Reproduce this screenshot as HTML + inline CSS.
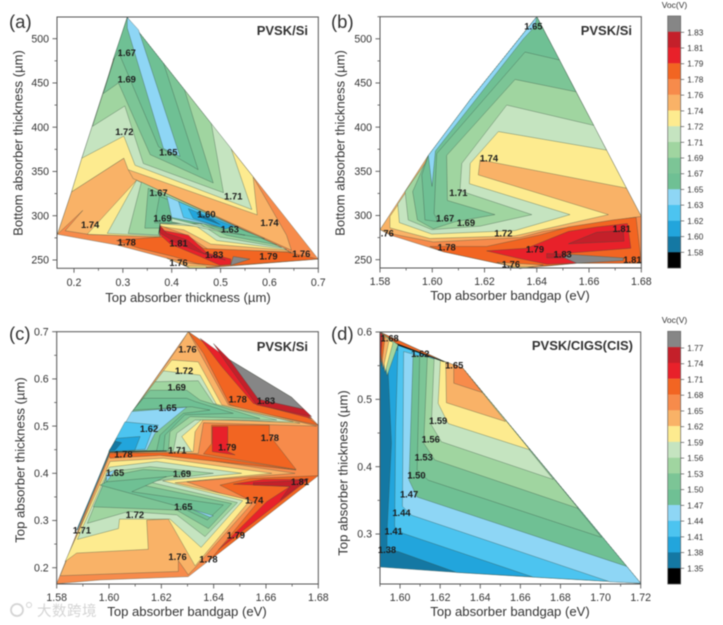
<!DOCTYPE html>
<html>
<head>
<meta charset="utf-8">
<title>Voc contour maps</title>
<style>
html,body{margin:0;padding:0;background:#fff;width:723px;height:625px;overflow:hidden}
svg{display:block;filter:blur(0.45px)}
text{font-family:"Liberation Sans","Noto Sans CJK SC",sans-serif}
</style>
</head>
<body>
<svg id="figure" xmlns="http://www.w3.org/2000/svg" width="723" height="625" viewBox="0 0 723 625"></svg>
<script>
// Band ordinal (0 = lowest Voc band, 15 = highest) -> colour bar palette
const palette = ['#000000','#1478a3','#22a5dc','#4cc4f0','#8ed6f5','#6fc094','#7cc596','#a0d5a0','#c5e4c0','#fdeb8f','#f9b267','#f78b4b','#f26522','#e8212a','#c4202a','#868686'];

// ---------- Panel (a): top thickness (um) vs bottom thickness (um)
const aXTicks = ['0.2','0.3','0.4','0.5','0.6','0.7'];
const aYTicks = ['250','300','350','400','450','500'];
const aBands = [
[11,[[.309,524],[.7,251],[.519,243],[.4715,241],[.437,241],[.39,252],[.287,267],[.166,279],[.195,327],[.216,365],[.238,401],[.26,438],[.28,476]]],
[10,[[.195,327],[.166,279],[.218,306],[.182,283],[.229,279],[.376,276],[.325,344],[.302,365]]],
[10,[[.311,352],[.5665,344],[.635,278],[.645,261],[.321,342]]],
[9,[[.309,524],[.5665,344],[.575,301],[.311,352],[.302,365],[.195,327],[.216,365]]],
[8,[[.309,524],[.5215,376],[.564,307],[.325,357],[.302,390],[.216,365]]],
[7,[[.309,524],[.481,404],[.506,326],[.342,359],[.304,424],[.238,401]]],
[6,[[.309,524],[.4264,442],[.485,337],[.356,369],[.291,450],[.26,438]]],
[5,[[.309,524],[.3835,472],[.454,352],[.373,378],[.291,485],[.28,476]]],
[4,[[.309,524],[.332,510],[.417,367],[.383,376],[.309,512]]],
[9,[[.328,340],[.227,279],[.376,276],[.44,272],[.492,265],[.64,260]]],
[8,[[.328,340],[.268,280],[.375,277],[.376,291],[.451,288],[.492,272],[.635,262]]],
[7,[[.338,338],[.311,280],[.375,278],[.376,291],[.458,291],[.499,276],[.625,264]]],
[6,[[.352,331],[.345,286],[.375,286],[.376,292],[.465,291],[.512,278],[.615,267]]],
[5,[[.375,322],[.365,292],[.376,292],[.47,291],[.52,281],[.59,274]]],
[8,[[.4,297],[.5,283],[.55,278],[.51,281],[.4,293]]],
[4,[[.39,322],[.4,298],[.51,286],[.53,288]]],
[3,[[.414,316],[.424,298],[.51,286],[.53,288]]],
[2,[[.434,308],[.444,297],[.51,285],[.525,288]]],
[1,[[.451,303],[.46,298],[.499,290],[.485,295]]],
[10,[[.376,288],[.425,284],[.48,268],[.635,261],[.645,258],[.45,250],[.376,275]]],
[11,[[.376,289],[.431,278],[.475,262],[.645,259],[.55,248],[.376,275]]],
[12,[[.287,272],[.375,276],[.431,276],[.465,263],[.635,259],[.7,251],[.526,244],[.492,243],[.451,246],[.403,254],[.335,263]]],
[13,[[.376,284],[.434,278],[.472,258],[.521,251],[.521,245],[.499,244],[.458,254],[.397,268],[.375,279]]],
[14,[[.376,289],[.39,280],[.43,273],[.465,258],[.51,250],[.47,256],[.41,269],[.375,281]]],
[15,[[.521,245],[.526,254],[.56,251],[.521,244]]],
[0,[[.373,279],[.376,291],[.376,284]]],
[10,[[.39,252],[.44,246],[.499,243],[.437,241]]],
[9,[[.437,241],[.43,243],[.47,243],[.4715,241]]]
];
const aLabels = [[.308,484,'1.67'],[.308,454,'1.69'],[.303,395,'1.72'],[.393,372,'1.65'],[.526,322,'1.71'],[.373,326,'1.67'],[.471,302,'1.60'],[.381,297,'1.69'],[.519,285,'1.63'],[.6,292,'1.74'],[.233,290,'1.74'],[.308,270,'1.78'],[.414,269,'1.81'],[.487,256,'1.83'],[.598,254,'1.79'],[.665,257,'1.76'],[.414,247,'1.76']];

// ---------- Panel (b): top bandgap (eV) vs bottom thickness (um)
const bXTicks = ['1.58','1.60','1.62','1.64','1.66','1.68'];
const bYTicks = ['250','300','350','400','450','500'];
const bBands = [
[11,[[1.64,525],[1.68,299],[1.68,246],[1.6553,246],[1.6451,243],[1.6336,240],[1.6247,246],[1.6042,259],[1.5838,278],[1.58,284],[1.5896,327],[1.5985,368],[1.6145,431]]],
[10,[[1.6743,331],[1.68,299],[1.668,294],[1.6425,282],[1.6336,275],[1.6004,270],[1.5832,280],[1.58,284],[1.5985,368],[1.6253,395]]],
[9,[[1.64,525],[1.6667,374],[1.6743,331],[1.6183,363],[1.6176,346],[1.6674,301],[1.6317,277],[1.5991,274],[1.5838,286],[1.5838,299],[1.6145,431]]],
[8,[[1.64,525],[1.6618,402],[1.6667,374],[1.6253,395],[1.6145,359],[1.6142,336],[1.6527,301],[1.6317,283],[1.5998,279],[1.5874,292],[1.5868,313],[1.6145,431]]],
[7,[[1.64,525],[1.655,440],[1.6618,402],[1.6285,425],[1.6113,359],[1.6106,328],[1.6381,301],[1.6183,288],[1.5998,284],[1.5908,295],[1.5896,327],[1.6145,431]]],
[6,[[1.64,525],[1.6487,476],[1.655,440],[1.6317,454],[1.6055,368],[1.6058,317],[1.624,301],[1.6087,293],[1.6004,285],[1.5943,295],[1.5925,327],[1.5985,368],[1.6145,431]]],
[5,[[1.64,525],[1.6487,476],[1.6355,485],[1.6017,370],[1.6007,302],[1.6023,293],[1.5972,295],[1.596,346],[1.5985,368],[1.6145,431]]],
[4,[[1.64,525],[1.6393,514],[1.6349,500],[1.6012,373],[1.5999,333],[1.5985,368],[1.6145,431]]],
[12,[[1.5991,265],[1.6208,265],[1.6412,278],[1.6521,287],[1.6693,295],[1.678,298],[1.68,246],[1.6553,246],[1.6425,243],[1.6247,246],[1.6042,259]]],
[13,[[1.6208,260],[1.6361,263],[1.6521,282],[1.6629,287],[1.6747,291],[1.676,263],[1.6502,257],[1.6553,246],[1.6438,245],[1.6323,252]]],
[14,[[1.6521,268],[1.6629,281],[1.6731,283],[1.6734,271]]],
[14,[[1.6438,257],[1.6527,256],[1.6502,252],[1.6438,252]]],
[15,[[1.6499,253],[1.6527,256],[1.6731,252],[1.6731,249],[1.6553,246]]],
[10,[[1.6247,247],[1.6425,244],[1.6336,240]]],
[9,[[1.6288,242],[1.6387,242],[1.6336,240]]]
];
const bLabels = [[1.6387,514,'1.65'],[1.6217,365,'1.74'],[1.61,326,'1.71'],[1.6049,297,'1.67'],[1.6129,292,'1.69'],[1.6272,280,'1.72'],[1.6725,285,'1.81'],[1.6393,262,'1.79'],[1.6055,264,'1.78'],[1.6499,256,'1.83'],[1.6766,250,'1.81'],[1.6301,245,'1.76'],[1.5828,280,'.76']];

// ---------- Panel (c): top bandgap (eV) vs top thickness (um)
const cXTicks = ['1.58','1.60','1.62','1.64','1.66','1.68'];
const cYTicks = ['0.2','0.3','0.4','0.5','0.6','0.7'];
const cBands = [
[11,[[1.6303,.7],[1.6462,.64],[1.6698,.561],[1.68,.502],[1.68,.396],[1.6303,.181],[1.5966,.174],[1.58,.166],[1.6,.446],[1.6093,.534]]],
[12,[[1.6303,.7],[1.6462,.64],[1.68,.502],[1.6526,.534],[1.6462,.545],[1.6361,.654]]],
[13,[[1.6348,.686],[1.6462,.64],[1.6775,.516],[1.6552,.548],[1.6431,.626]]],
[14,[[1.6399,.675],[1.6462,.64],[1.6698,.561],[1.6775,.52],[1.6564,.545],[1.645,.633]]],
[15,[[1.6462,.64],[1.6698,.561],[1.6743,.536],[1.6571,.557]]],
[10,[[1.6265,.667],[1.6303,.7],[1.6373,.629],[1.6456,.545],[1.6794,.5],[1.6361,.507],[1.6341,.442],[1.622,.442],[1.6,.446],[1.6093,.534]]],
[9,[[1.6208,.617],[1.624,.64],[1.6341,.636],[1.6431,.545],[1.673,.506],[1.6363,.516],[1.6329,.488],[1.6322,.446],[1.6,.446],[1.6093,.534]]],
[8,[[1.6208,.617],[1.6348,.608],[1.6412,.545],[1.6705,.509],[1.6354,.514],[1.6278,.478],[1.6316,.446],[1.6,.446],[1.6093,.534]]],
[7,[[1.6176,.594],[1.6341,.596],[1.6399,.548],[1.6641,.513],[1.6329,.513],[1.6259,.485],[1.6246,.448],[1.6,.446],[1.6093,.534]]],
[6,[[1.6157,.576],[1.6297,.576],[1.6348,.555],[1.6577,.516],[1.631,.52],[1.6233,.488],[1.6227,.448],[1.6,.446],[1.6093,.534]]],
[5,[[1.6131,.559],[1.6297,.559],[1.6329,.552],[1.6475,.527],[1.629,.524],[1.6214,.481],[1.6208,.448],[1.6,.446],[1.6093,.534]]],
[6,[[1.6093,.534],[1.6316,.541],[1.6386,.534],[1.6284,.527],[1.6195,.481],[1.6182,.448],[1.6,.446]]],
[4,[[1.6087,.531],[1.6297,.54],[1.6176,.485],[1.6144,.449],[1.6,.446]]],
[3,[[1.6061,.509],[1.6189,.502],[1.6163,.488],[1.6138,.451],[1.6,.446]]],
[2,[[1.6029,.474],[1.6119,.478],[1.6099,.449],[1.6,.446]]],
[1,[[1.6,.448],[1.6023,.468],[1.6048,.465],[1.6023,.449]]],
[12,[[1.6361,.441],[1.6392,.463],[1.6392,.502],[1.6613,.502],[1.6613,.481],[1.6715,.408]]],
[13,[[1.6395,.499],[1.6454,.499],[1.6454,.446],[1.6482,.439],[1.6395,.446]]],
[10,[[1.6,.435],[1.622,.441],[1.6711,.4],[1.6297,.382],[1.6545,.335],[1.6335,.204],[1.6303,.185],[1.6265,.215],[1.6265,.192],[1.5813,.183]]],
[12,[[1.5997,.442],[1.622,.444],[1.6322,.441],[1.6715,.407],[1.6195,.438],[1.6004,.432]]],
[0,[[1.6,.445],[1.622,.448],[1.622,.447],[1.6,.444]]],
[9,[[1.5832,.213],[1.5876,.231],[1.615,.239],[1.6144,.301],[1.6227,.303],[1.6329,.204],[1.6539,.343],[1.6252,.38],[1.6622,.4],[1.6348,.421],[1.6208,.432],[1.6004,.425]]],
[8,[[1.5879,.26],[1.6036,.283],[1.604,.303],[1.6233,.303],[1.6352,.243],[1.6511,.342],[1.6205,.384],[1.6507,.4],[1.6182,.425],[1.6001,.413]]],
[7,[[1.5917,.294],[1.6074,.319],[1.6259,.312],[1.6367,.266],[1.6491,.338],[1.615,.382],[1.6399,.4],[1.6157,.414],[1.5997,.403]]],
[6,[[1.594,.329],[1.6259,.322],[1.638,.283],[1.6469,.336],[1.6093,.379],[1.631,.402],[1.6131,.408],[1.5991,.393]]],
[5,[[1.5966,.375],[1.6271,.329],[1.6376,.301],[1.6437,.333],[1.6087,.361],[1.622,.393],[1.5991,.382]]],
[4,[[1.6316,.324],[1.6399,.31],[1.6386,.307]]],
[4,[[1.5989,.4],[1.6023,.407],[1.5991,.382]]],
[12,[[1.6424,.375],[1.6539,.389],[1.68,.395],[1.6386,.216],[1.6564,.336]]],
[13,[[1.6475,.377],[1.659,.387],[1.6762,.387],[1.6418,.238],[1.6603,.34],[1.6692,.372]]],
[14,[[1.6552,.38],[1.6705,.384],[1.6762,.389],[1.6654,.343],[1.6692,.372],[1.6552,.375]]],
[1,[[1.6,.444],[1.5876,.28],[1.5879,.28],[1.6003,.443]]]
];
const cLabels = [[1.63,.663,'1.76'],[1.6287,.617,'1.72'],[1.6259,.582,'1.69'],[1.6224,.539,'1.65'],[1.6153,.494,'1.62'],[1.6492,.557,'1.78'],[1.66,.554,'1.83'],[1.6452,.455,'1.79'],[1.6615,.475,'1.78'],[1.6055,.44,'1.78'],[1.6261,.449,'1.71'],[1.6023,.401,'1.65'],[1.6279,.399,'1.69'],[1.673,.382,'1.81'],[1.6555,.343,'1.74'],[1.6284,.329,'1.65'],[1.6099,.312,'1.72'],[1.5896,.279,'1.71'],[1.6485,.269,'1.79'],[1.6262,.223,'1.76'],[1.638,.218,'1.78']];

// ---------- Panel (d): top bandgap (eV) vs top thickness (um), CIGS
const dXTicks = ['1.60','1.62','1.64','1.66','1.68','1.70','1.72'];
const dYTicks = ['0.3','0.4','0.5','0.6'];
const dBands = [
[1,[[1.59,.6],[1.6223,.556],[1.6314,.546],[1.72,.227],[1.6664,.236],[1.6281,.243],[1.59,.251]]],
[2,[[1.6281,.243],[1.72,.227],[1.6314,.546],[1.5935,.577],[1.5957,.435],[1.5935,.303],[1.5935,.275],[1.599,.274]]],
[3,[[1.6664,.236],[1.72,.227],[1.6314,.546],[1.599,.581],[1.5978,.459],[1.5973,.311],[1.6015,.301]]],
[4,[[1.7047,.229],[1.72,.227],[1.6314,.546],[1.6018,.571],[1.6012,.341],[1.6057,.328]]],
[5,[[1.713,.252],[1.6314,.546],[1.6065,.566],[1.6045,.38],[1.6085,.355]]],
[6,[[1.7005,.295],[1.6314,.546],[1.6098,.566],[1.6085,.395],[1.614,.38]]],
[7,[[1.6889,.338],[1.6314,.546],[1.6136,.563],[1.6118,.435],[1.6173,.41]]],
[8,[[1.6764,.381],[1.6314,.546],[1.617,.561],[1.6156,.462],[1.6206,.437]]],
[9,[[1.6647,.425],[1.6314,.546],[1.6201,.558],[1.619,.494],[1.624,.464]]],
[10,[[1.6526,.467],[1.6314,.546],[1.6228,.556],[1.6231,.495]]],
[11,[[1.6411,.51],[1.6314,.546],[1.6268,.553],[1.6268,.524]]],
[12,[[1.59,.6],[1.6223,.556],[1.5982,.583]]],
[0,[[1.5982,.583],[1.6223,.556],[1.6215,.556],[1.5982,.581]]],
[7,[[1.59,.6],[1.599,.581],[1.5935,.535]]],
[9,[[1.59,.6],[1.5965,.584],[1.5925,.54]]],
[10,[[1.59,.6],[1.5945,.587],[1.5915,.545]]],
[12,[[1.59,.6],[1.5925,.592],[1.5908,.55]]],
[14,[[1.59,.6],[1.5912,.596],[1.5903,.555]]]
];
const dLabels = [[1.5948,.591,'1.68'],[1.6101,.568,'1.62'],[1.627,.551,'1.65'],[1.619,.468,'1.59'],[1.6153,.441,'1.56'],[1.6118,.414,'1.53'],[1.6082,.387,'1.50'],[1.6045,.359,'1.47'],[1.6007,.332,'1.44'],[1.5968,.304,'1.41'],[1.5935,.277,'1.38']];

// ---------- Colour bar tick labels (top to bottom)
const upperBarTicks = ['1.83','1.81','1.79','1.78','1.76','1.74','1.72','1.71','1.69','1.67','1.65','1.63','1.62','1.60','1.58'];
const lowerBarTicks = ['1.77','1.74','1.71','1.68','1.65','1.62','1.59','1.56','1.53','1.50','1.47','1.44','1.41','1.38','1.35'];

// ---------- Layout (not data)
const panels = [
 {key:'a',tag:'(a)',tagX:9,tagY:28,left:57,right:318.3,top:17,bottom:268.3,xDom:[.1652,.7],yDom:[240.6,524.5],xTicks:aXTicks,yTicks:aYTicks,bands:aBands,labels:aLabels,xTitle:'Top absorber thickness (\u00b5m)',yTitle:'Bottom absorber thickness (\u00b5m)',xTitleX:188,xTitleY:302,xTickY:286,yTitleX:18,yTitleY:143,note:'PVSK/Si',noteX:308,noteY:35},
 {key:'b',tag:'(b)',tagX:331,tagY:28,left:380,right:641.3,top:16.7,bottom:268,xDom:[1.58,1.68],yDom:[240.6,525],xTicks:bXTicks,yTicks:bYTicks,bands:bBands,labels:bLabels,xTitle:'Top absorber bandgap (eV)',yTitle:'Bottom absorber thickness (\u00b5m)',xTitleX:510,xTitleY:300,xTickY:285,yTitleX:340,yTitleY:143,note:'PVSK/Si',noteX:632,noteY:35},
 {key:'c',tag:'(c)',tagX:9,tagY:340,left:56.7,right:318.3,top:331.7,bottom:584,xDom:[1.58,1.68],yDom:[.1655,.7],xTicks:cXTicks,yTicks:cYTicks,bands:cBands,labels:cLabels,xTitle:'Top absorber bandgap (eV)',yTitle:'Top absorber thickness (\u00b5m)',xTitleX:187,xTitleY:616,xTickY:601,yTitleX:20,yTitleY:460,note:'PVSK/Si',noteX:308,noteY:351},
 {key:'d',tag:'(d)',tagX:331,tagY:340,left:380,right:640.7,top:332,bottom:584,xDom:[1.59,1.72],yDom:[.2258,.6],xTicks:dXTicks,yTicks:dYTicks,bands:dBands,labels:dLabels,xTitle:'Top absorber bandgap (eV)',yTitle:'Top absorber thickness (\u00b5m)',xTitleX:510,xTitleY:616,xTickY:601,yTitleX:343,yTitleY:473,note:'PVSK/CIGS(CIS)',noteX:633,noteY:350}
];
const bars = [
 {key:'upper',left:667.7,right:680.7,top:16,bottom:268,firstTickY:32.3,lastTickY:252.3,ticks:upperBarTicks,titleY:8},
 {key:'lower',left:667.7,right:680.7,top:331.3,bottom:584,firstTickY:348,lastTickY:568.3,ticks:lowerBarTicks,titleY:323}
];

const NS = 'http://www.w3.org/2000/svg';
const root = document.getElementById('figure');

function make(tag, attrs, parent) {
  const el = document.createElementNS(NS, tag);
  for (const k in attrs) el.setAttribute(k, attrs[k]);
  (parent || root).appendChild(el);
  return el;
}
function scaleLinear(dom, a, b) {
  return v => a + (v - dom[0]) / (dom[1] - dom[0]) * (b - a);
}
function minorTicks(values, dom) {
  const out = [];
  const step = values[1] - values[0];
  for (let i = -1; i < values.length; i++) {
    const m = values[0] + (i + 0.5) * step;
    if (m >= dom[0] && m <= dom[1]) out.push(m);
  }
  return out;
}

function drawPanel(p) {
  const g = make('g', {});
  
  
  const sx = scaleLinear(p.xDom, p.left, p.right);
  const sy = scaleLinear(p.yDom, p.bottom, p.top);

  p.bands.forEach(function (band, i) {
    const pts = band[1].map(function (q) { return sx(q[0]).toFixed(2) + ',' + sy(q[1]).toFixed(2); }).join(' ');
    const poly = make('polygon', {points: pts, fill: palette[band[0]], stroke: '#35493d', 'stroke-width': 0.5, 'stroke-opacity': 0.6, 'stroke-linejoin': 'round'}, g);
    
    
  });

  const frame = make('rect', {x: p.left, y: p.top, width: p.right - p.left, height: p.bottom - p.top, fill: 'none', stroke: '#555', 'stroke-width': 1}, g);
  
  

  const xVals = p.xTicks.map(Number);
  const yVals = p.yTicks.map(Number);
  p.xTicks.forEach(function (t) {
    const x = sx(Number(t));
    const tick = make('line', {x1: x, x2: x, y1: p.bottom, y2: p.bottom + 4.5, stroke: '#555', 'stroke-width': 0.9}, g);
    
    
    const lab = make('text', {x: x, y: p.xTickY, 'text-anchor': 'middle', 'font-size': 10.6, fill: '#333'}, g);
    lab.textContent = t;
    
    
  });
  minorTicks(xVals, p.xDom).forEach(function (v, i) {
    const x = sx(v);
    const tick = make('line', {x1: x, x2: x, y1: p.bottom, y2: p.bottom + 2.5, stroke: '#555', 'stroke-width': 0.8}, g);
    
    
  });
  p.yTicks.forEach(function (t) {
    const y = sy(Number(t));
    const tick = make('line', {x1: p.left - 4.5, x2: p.left, y1: y, y2: y, stroke: '#555', 'stroke-width': 0.9}, g);
    
    
    const lab = make('text', {x: p.left - 8, y: y + 3.7, 'text-anchor': 'end', 'font-size': 10.6, fill: '#333'}, g);
    lab.textContent = t;
    
    
  });
  minorTicks(yVals, p.yDom).forEach(function (v, i) {
    const y = sy(v);
    const tick = make('line', {x1: p.left - 2.5, x2: p.left, y1: y, y2: y, stroke: '#555', 'stroke-width': 0.8}, g);
    
    
  });

  p.labels.forEach(function (l, i) {
    const t = make('text', {x: sx(l[0]), y: sy(l[1]) + 3.3, 'text-anchor': 'middle', 'font-size': 9.4, 'font-weight': 'bold', fill: '#1c1c1c'}, g);
    t.textContent = l[2];
    
    
  });

  const xt = make('text', {x: p.xTitleX, y: p.xTitleY, 'text-anchor': 'middle', 'font-size': 13.1, fill: '#333'}, g);
  xt.textContent = p.xTitle;
  
  

  const yt = make('text', {x: 0, y: 0, transform: 'translate(' + (p.yTitleX + 4.5) + ',' + p.yTitleY + ') rotate(-90)', 'text-anchor': 'middle', 'font-size': 13.1, fill: '#333'}, g);
  yt.textContent = p.yTitle;
  
  

  const note = make('text', {x: p.noteX, y: p.noteY, 'text-anchor': 'end', 'font-size': 13, 'font-weight': 'bold', fill: '#333'}, g);
  note.textContent = p.note;
  
  

  const tag = make('text', {x: p.tagX, y: p.tagY, 'font-size': 18.5, fill: '#333'}, g);
  tag.textContent = p.tag;
  
  
}

function drawBar(b) {
  const g = make('g', {});
  
  
  const n = palette.length;
  const h = (b.bottom - b.top) / n;
  for (let i = 0; i < n; i++) {
    const r = make('rect', {x: b.left, y: b.top + i * h, width: b.right - b.left, height: h + 0.2, fill: palette[n - 1 - i]}, g);
    
    
  }
  const frame = make('rect', {x: b.left, y: b.top, width: b.right - b.left, height: b.bottom - b.top, fill: 'none', stroke: '#666', 'stroke-width': 0.7}, g);
  
  
  const step = (b.lastTickY - b.firstTickY) / (b.ticks.length - 1);
  b.ticks.forEach(function (t, i) {
    const y = b.firstTickY + i * step;
    const tick = make('line', {x1: b.right, x2: b.right + 3.5, y1: y, y2: y, stroke: '#555', 'stroke-width': 0.7}, g);
    
    
    const lab = make('text', {x: 687.2, y: y + 3, 'font-size': 8.3, fill: '#333'}, g);
    lab.textContent = t;
    
    
  });
  const title = make('text', {x: 674.5, y: b.titleY, 'text-anchor': 'middle', 'font-size': 8.5, fill: '#333'}, g);
  title.textContent = 'Voc(V)';
  
  
}

panels.forEach(drawPanel);
bars.forEach(drawBar);

const wm = make('text', {x: 37, y: 616, 'font-size': 14.5, fill: '#d4d4d4', 'letter-spacing': 0.5});
wm.textContent = '\u5927\u6570\u8de8\u5883';


const wmLogo = make('circle', {cx: 17, cy: 610, r: 6, fill: 'none', stroke: '#d4d4d4', 'stroke-width': 1.8});


const wmDot = make('circle', {cx: 29, cy: 605, r: 2.5, fill: 'none', stroke: '#d4d4d4', 'stroke-width': 1});


</script>
</body>
</html>
